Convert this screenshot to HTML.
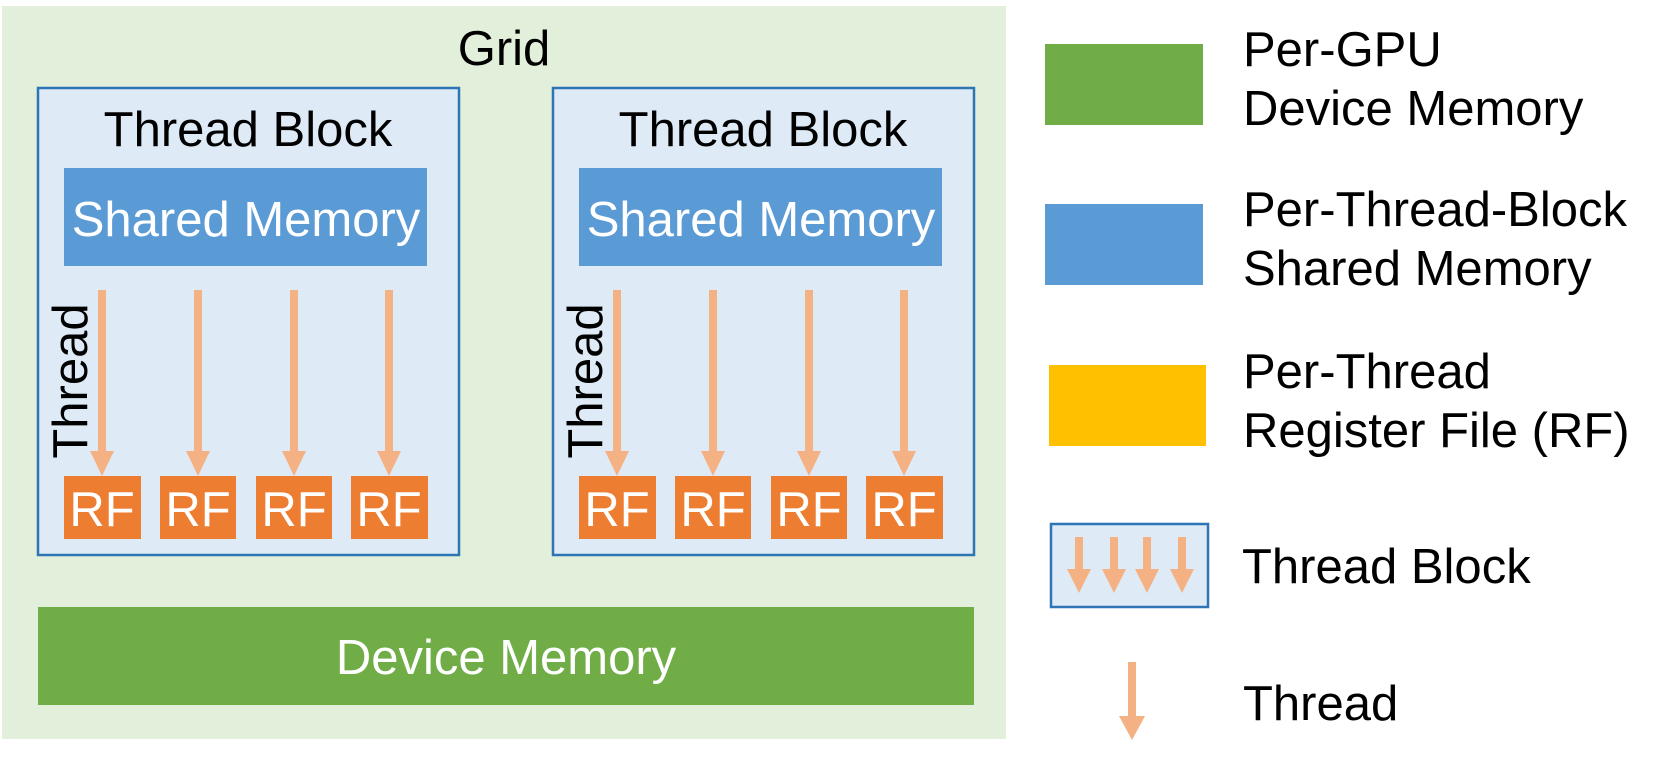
<!DOCTYPE html>
<html><head><meta charset="utf-8"><style>
html,body{margin:0;padding:0;background:#fff;}
svg{display:block;font-family:"Liberation Sans",Arial,sans-serif;}
</style></head><body>
<svg width="1661" height="767" viewBox="0 0 1661 767" xmlns="http://www.w3.org/2000/svg">
<defs>
<g id="arr"><rect x="-4" y="0" width="8" height="162" fill="#f4b183"/><polygon points="-12,161 12,161 0,186" fill="#f4b183"/></g>
<g id="block">
  <rect x="38" y="88" width="421" height="467" fill="#deebf7" stroke="#2e75b6" stroke-width="2.5"/>
  <text x="248" y="146" font-size="49" text-anchor="middle" fill="#000">Thread Block</text>
  <rect x="64" y="168" width="363" height="98" fill="#5b9bd5"/>
  <text x="246" y="236" font-size="49" text-anchor="middle" fill="#fff">Shared Memory</text>
  <use href="#arr" x="102" y="290"/>
  <use href="#arr" x="198" y="290"/>
  <use href="#arr" x="294" y="290"/>
  <use href="#arr" x="389" y="290"/>
  <rect x="64" y="476" width="77" height="63" fill="#ed7d31"/>
  <rect x="160" y="476" width="76" height="63" fill="#ed7d31"/>
  <rect x="256" y="476" width="76" height="63" fill="#ed7d31"/>
  <rect x="351" y="476" width="77" height="63" fill="#ed7d31"/>
  <g font-size="49" fill="#fff" text-anchor="middle">
    <text x="102" y="526">RF</text><text x="198" y="526">RF</text><text x="294" y="526">RF</text><text x="389" y="526">RF</text>
  </g>
  <text transform="translate(87,381) rotate(-90)" font-size="49" text-anchor="middle" fill="#000">Thread</text>
</g>
</defs>
<rect x="2" y="6" width="1004" height="733" fill="#e2efda"/>
<text x="504" y="65" font-size="49" text-anchor="middle" fill="#000">Grid</text>
<use href="#block"/>
<use href="#block" x="515"/>
<rect x="38" y="607" width="936" height="98" fill="#70ad47"/>
<text x="506" y="674" font-size="49" text-anchor="middle" fill="#fff">Device Memory</text>

<rect x="1045" y="44" width="158" height="81" fill="#70ad47"/>
<rect x="1045" y="204" width="158" height="81" fill="#5b9bd5"/>
<rect x="1049" y="365" width="157" height="81" fill="#ffc000"/>
<rect x="1051" y="524" width="157" height="83" fill="#deebf7" stroke="#2e75b6" stroke-width="2.5"/>
<g fill="#f4b183">
  <rect x="1075" y="537" width="8" height="33"/><polygon points="1067,569 1091,569 1079,593"/>
  <rect x="1110" y="537" width="8" height="33"/><polygon points="1102,569 1126,569 1114,593"/>
  <rect x="1143" y="537" width="8" height="33"/><polygon points="1135,569 1159,569 1147,593"/>
  <rect x="1178" y="537" width="8" height="33"/><polygon points="1170,569 1194,569 1182,593"/>
  <rect x="1128" y="662" width="8" height="55"/><polygon points="1119,716 1145,716 1132,740"/>
</g>
<g font-size="49" fill="#000">
  <text x="1243" y="66">Per-GPU</text>
  <text x="1243" y="125">Device Memory</text>
  <text x="1243" y="226">Per-Thread-Block</text>
  <text x="1243" y="285">Shared Memory</text>
  <text x="1243" y="388">Per-Thread</text>
  <text x="1243" y="447">Register File (RF)</text>
  <text x="1242" y="583">Thread Block</text>
  <text x="1243" y="720">Thread</text>
</g>
</svg>
</body></html>
